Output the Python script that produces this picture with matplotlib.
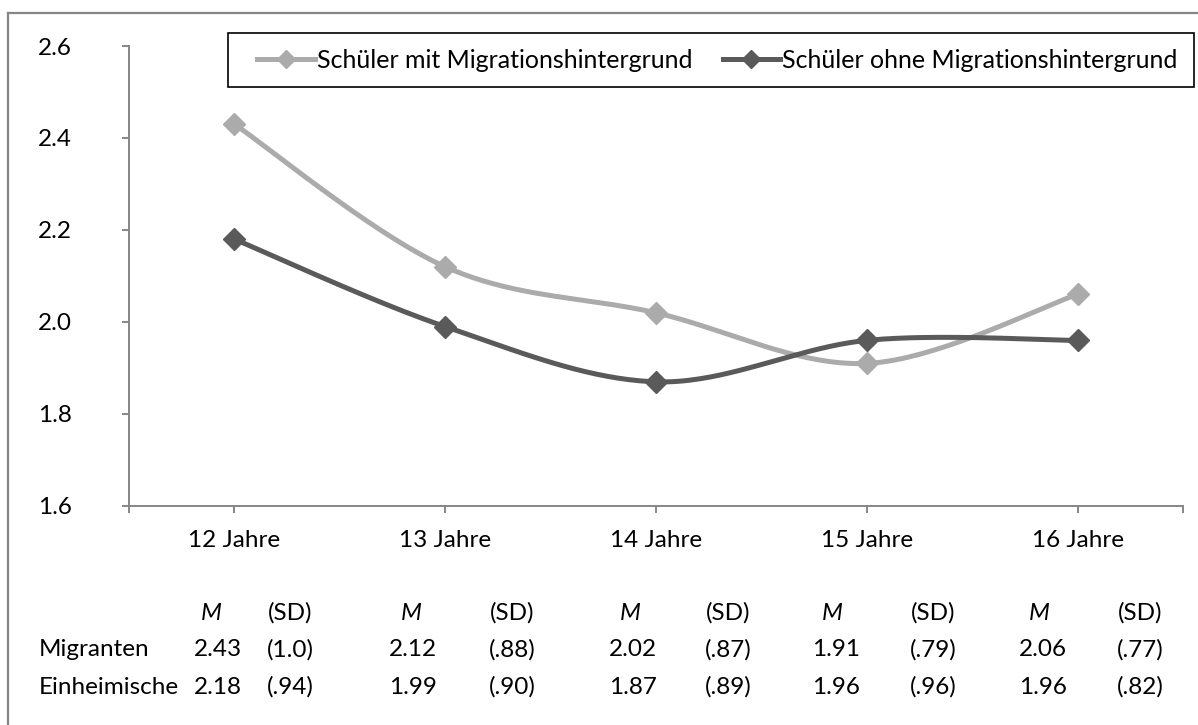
import numpy as np
import matplotlib
matplotlib.use('Agg')
import matplotlib.pyplot as plt
from matplotlib.lines import Line2D
from matplotlib.patches import Rectangle

plt.rcParams['font.family'] = ['Lato', 'DejaVu Sans']

# data
categories = ['12 Jahre', '13 Jahre', '14 Jahre', '15 Jahre', '16 Jahre']
mig_mean = [2.43, 2.12, 2.02, 1.91, 2.06]
ein_mean = [2.18, 1.99, 1.87, 1.96, 1.96]
mig_sd = ['(1.0)', '(.88)', '(.87)', '(.79)', '(.77)']
ein_sd = ['(.94)', '(.90)', '(.89)', '(.96)', '(.82)']
series_labels = ['Schüler mit Migrationshintergrund', 'Schüler ohne Migrationshintergrund']
row_labels = ['Migranten', 'Einheimische']

c_light = '#ababab'
c_dark = '#5a5a5a'
c_axis = '#868686'
W, H = 1198, 725
fs = 17.5


def smooth(y, n=40):
    # Excel-like smoothed line (Catmull-Rom as cubic Bezier)
    x = np.arange(len(y), dtype=float)
    y = np.asarray(y, dtype=float)
    p = np.column_stack([x, y])
    p = np.vstack([p[0], p, p[-1]])
    out = []
    t = np.linspace(0, 1, n)[:, None]
    for i in range(1, len(p) - 2):
        p0, p1, p2, p3 = p[i - 1], p[i], p[i + 1], p[i + 2]
        c1 = p1 + (p2 - p0) / 6.0
        c2 = p2 - (p3 - p1) / 6.0
        seg = ((1 - t) ** 3) * p1 + 3 * ((1 - t) ** 2) * t * c1 + 3 * (1 - t) * t ** 2 * c2 + t ** 3 * p2
        out.append(seg if i == 1 else seg[1:])
    out = np.vstack(out)
    return out[:, 0], out[:, 1]


fig = plt.figure(figsize=(W / 100, H / 100), dpi=100)
ax = fig.add_axes([129 / W, 1 - 506 / H, (1183 - 129) / W, (506 - 46) / H])

x = np.arange(len(categories))
for vals, col in [(mig_mean, c_light), (ein_mean, c_dark)]:
    sx, sy = smooth(vals)
    ax.plot(sx, sy, color=col, lw=3.6, solid_capstyle='round', zorder=3)
    ax.plot(x, vals, ls='none', marker='D', ms=11, color=col, mec=col, zorder=4)

ax.set_xlim(-0.5, len(categories) - 0.5)
ax.set_ylim(1.6, 2.6)
yt = np.arange(1.6, 2.61, 0.2)
ax.set_yticks(yt)
ax.set_yticklabels(['%.1f' % v for v in yt], fontsize=fs)
ax.set_xticks(x)
ax.set_xticklabels(categories, fontsize=fs)
ax.set_xticks([-0.5, len(categories) - 0.5], minor=True)

for s in ['top', 'right']:
    ax.spines[s].set_visible(False)
for s in ['left', 'bottom']:
    ax.spines[s].set_color(c_axis)
    ax.spines[s].set_linewidth(1.4)
ax.tick_params(axis='both', which='both', direction='out', length=5, width=1.4, color=c_axis)
ax.tick_params(axis='y', pad=60.5)
ax.tick_params(axis='x', pad=12.5)
for lab in ax.get_yticklabels():
    lab.set_horizontalalignment('left')

# legend: box drawn separately, entries without frame
fig.add_artist(Rectangle((228 / W, 1 - 87 / H), (1194 - 228) / W, 54 / H,
                         transform=fig.transFigure, fill=False, ec='black', lw=1.2))
handles = [Line2D([], [], color=c_light, lw=3.6, marker='D', ms=9),
           Line2D([], [], color=c_dark, lw=3.6, marker='D', ms=9)]
fig.legend(handles, series_labels, loc='center left',
           bbox_to_anchor=(257 / W, 1 - 60 / H), borderaxespad=0, borderpad=0,
           ncol=2, fontsize=18, frameon=False,
           handlelength=2.3, handletextpad=0.1, columnspacing=1.2)

# outer frame (cut off at right and bottom)
fig.add_artist(Line2D([8 / W, 8 / W], [0, 1 - 13 / H], color=c_axis, lw=1.6))
fig.add_artist(Line2D([8 / W, 1], [1 - 13 / H, 1 - 13 / H], color=c_axis, lw=1.6))

# table underneath
m_x = [211, 411, 630, 832, 1039]
v_x = [218, 413, 633, 836, 1043]
sd_x = [290, 512, 728, 933, 1140]
row_y = [613, 650, 687]
for i in range(len(categories)):
    fig.text(m_x[i] / W, 1 - row_y[0] / H, 'M', style='italic', fontsize=fs, ha='center', va='center')
    fig.text(sd_x[i] / W, 1 - row_y[0] / H, '(SD)', fontsize=fs, ha='center', va='center')
    fig.text(v_x[i] / W, 1 - row_y[1] / H, '%.2f' % mig_mean[i], fontsize=fs, ha='center', va='center')
    fig.text(sd_x[i] / W, 1 - row_y[1] / H, mig_sd[i], fontsize=fs, ha='center', va='center')
    fig.text(v_x[i] / W, 1 - row_y[2] / H, '%.2f' % ein_mean[i], fontsize=fs, ha='center', va='center')
    fig.text(sd_x[i] / W, 1 - row_y[2] / H, ein_sd[i], fontsize=fs, ha='center', va='center')
fig.text(39 / W, 1 - row_y[1] / H, row_labels[0], fontsize=fs, ha='left', va='center')
fig.text(39 / W, 1 - row_y[2] / H, row_labels[1], fontsize=fs, ha='left', va='center')

fig.savefig('out.png', dpi=100)
